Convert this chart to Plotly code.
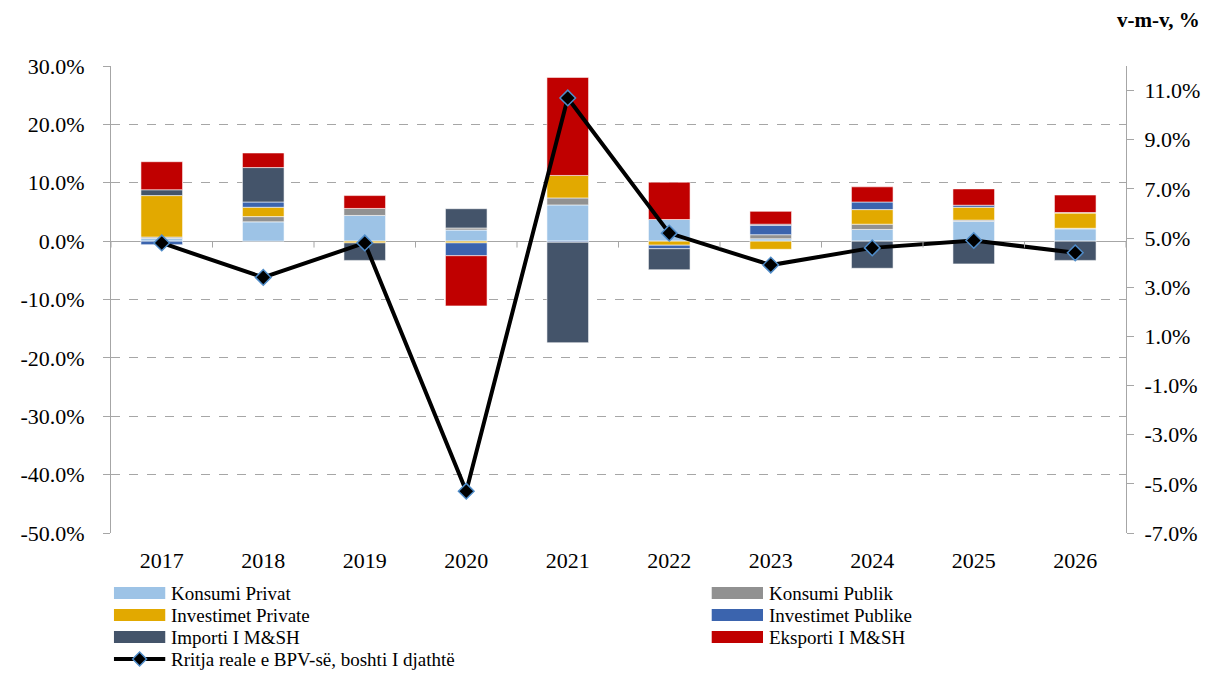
import plotly.graph_objects as go

# data (percentage-point contributions)
years = ["2017", "2018", "2019", "2020", "2021", "2022", "2023", "2024", "2025", "2026"]
konsumi_privat = [0.5, 3.3, 4.4, 1.9, 6.2, 3.7, 0.4, 2.0, 3.4, 2.1]
konsumi_publik = [0.2, 0.9, 1.2, 0.35, 1.2, 0.0, 0.7, 0.9, 0.2, 0.1]
investimet_private = [7.1, 1.6, -0.3, -0.3, 3.85, -0.7, -1.4, 2.5, 2.2, 2.6]
investimet_publike = [-0.6, 0.9, 0.0, -2.2, -0.2, -0.6, 1.6, 1.3, 0.35, 0.1]
importi = [1.0, 5.9, -3.0, 3.3, -17.2, -3.6, 0.2, -4.65, -3.9, -3.3]
eksporti = [4.8, 2.5, 2.2, -8.6, 16.8, 6.4, 2.2, 2.6, 2.8, 3.0]
rritja_bpv = [4.8, 3.4, 4.8, -5.3, 10.7, 5.2, 3.9, 4.6, 4.9, 4.4]

left_ticks = [-50, -40, -30, -20, -10, 0, 10, 20, 30]
left_labels = ["-50.0%", "-40.0%", "-30.0%", "-20.0%", "-10.0%", "0.0%", "10.0%", "20.0%", "30.0%"]
right_ticks = [-7, -5, -3, -1, 1, 3, 5, 7, 9, 11]
right_labels = ["-7.0%", "-5.0%", "-3.0%", "-1.0%", "1.0%", "3.0%", "5.0%", "7.0%", "9.0%", "11.0%"]

FONT = "Liberation Serif"
AXIS_GREY = "#A6A6A6"

bar_series = [
    ("Konsumi Privat", konsumi_privat, "#9DC3E6"),
    ("Konsumi Publik", konsumi_publik, "#919191"),
    ("Investimet Private", investimet_private, "#E2A900"),
    ("Investimet Publike", investimet_publike, "#3B64AE"),
    ("Importi I M&SH", importi, "#44546A"),
    ("Eksporti I M&SH", eksporti, "#C00000"),
]
line_name = "Rritja reale e BPV-së, boshti I djathtë"

fig = go.Figure()
for name, vals, col in bar_series:
    fig.add_trace(go.Bar(x=years, y=vals, name=name, marker_color=col,
                         marker_line=dict(color="rgba(255,255,255,0.7)", width=0.8),
                         showlegend=False))

fig.add_trace(go.Scatter(x=years, y=rritja_bpv, name=line_name, yaxis="y2",
                         mode="lines+markers",
                         line=dict(color="black", width=4),
                         marker=dict(symbol="diamond", size=12, color="black",
                                     line=dict(color="#4F8CC9", width=1.5)),
                         showlegend=False))

# page has an 8px body margin, so figure is 1204x663 and positions are shifted
OFF = 8
W, H = 1220 - 2 * OFF, 679 - 2 * OFF
# plot area in page pixels
L, R, T, B = 105 - OFF, 1134 - OFF, 66 - OFF, 533 - OFF


def px(x):
    return (x - OFF - L) / (R - L)


def py(y):
    return (B - (y - OFF)) / (B - T)


shapes = []
# category tick marks on the zero line
for k in range(len(years) + 1):
    shapes.append(dict(type="line", xref="x", yref="y", x0=k - 0.5, x1=k - 0.5,
                       y0=0, y1=-1.1, line=dict(color=AXIS_GREY, width=1)))

annotations = [dict(text="<b>v-m-v, %</b>", xref="paper", yref="paper",
                    x=px(1211), y=py(20), xanchor="right", yanchor="middle",
                    showarrow=False, font=dict(family=FONT, size=21, color="black"))]

# manual legend, two columns like the original
legend_items = [(name, col) for name, _, col in bar_series]
rows_y = [593, 615, 637, 659]
cols_x = [108, 714]
LEG_SIZE = 19
for i, (name, col) in enumerate(legend_items):
    x0 = cols_x[i % 2]
    yc = rows_y[i // 2]
    shapes.append(dict(type="rect", xref="paper", yref="paper",
                       x0=px(x0), x1=px(x0 + 52), y0=py(yc + 6), y1=py(yc - 6),
                       fillcolor=col, line=dict(width=0)))
    annotations.append(dict(text=name, xref="paper", yref="paper", x=px(x0 + 56), y=py(yc),
                            xanchor="left", yanchor="middle", showarrow=False,
                            font=dict(family=FONT, size=LEG_SIZE, color="black")))

# line entry
yc = rows_y[3]
shapes.append(dict(type="line", xref="paper", yref="paper", x0=px(108), x1=px(160),
                   y0=py(yc), y1=py(yc), line=dict(color="black", width=4)))
cx = 134
d = 7
shapes.append(dict(type="path", xref="paper", yref="paper",
                   path=f"M {px(cx - d)},{py(yc)} L {px(cx)},{py(yc - d)} L {px(cx + d)},{py(yc)} "
                        f"L {px(cx)},{py(yc + d)} Z",
                   fillcolor="black", line=dict(color="#4F8CC9", width=1.5)))
annotations.append(dict(text=line_name, xref="paper", yref="paper", x=px(164), y=py(yc),
                        xanchor="left", yanchor="middle", showarrow=False,
                        font=dict(family=FONT, size=LEG_SIZE, color="black")))

fig.update_layout(
    width=W, height=H,
    margin=dict(l=L, r=W - R, t=T, b=H - B),
    paper_bgcolor="white", plot_bgcolor="white",
    barmode="relative", bargap=0.59,
    font=dict(family=FONT, size=22, color="black"),
    xaxis=dict(type="category", range=[-0.5, 9.5], showline=False, showgrid=False,
               ticks="", ticklabelstandoff=12, tickfont=dict(size=22)),
    yaxis=dict(range=[-50, 30], tickvals=left_ticks, ticktext=left_labels,
               showline=True, linecolor=AXIS_GREY, linewidth=1,
               ticks="outside", ticklen=7, tickcolor=AXIS_GREY,
               showgrid=True, gridcolor=AXIS_GREY, griddash="dash", gridwidth=1,
               zeroline=True, zerolinecolor=AXIS_GREY, zerolinewidth=1.2,
               ticklabelstandoff=14, tickfont=dict(size=22)),
    yaxis2=dict(range=[-7, 12], tickvals=right_ticks, ticktext=right_labels,
                overlaying="y", side="right",
                showline=True, linecolor=AXIS_GREY, linewidth=1,
                ticks="outside", ticklen=7, tickcolor=AXIS_GREY,
                showgrid=False, zeroline=False,
                ticklabelstandoff=6, tickfont=dict(size=22)),
    shapes=shapes,
    annotations=annotations,
)

fig.write_html("out.html")
